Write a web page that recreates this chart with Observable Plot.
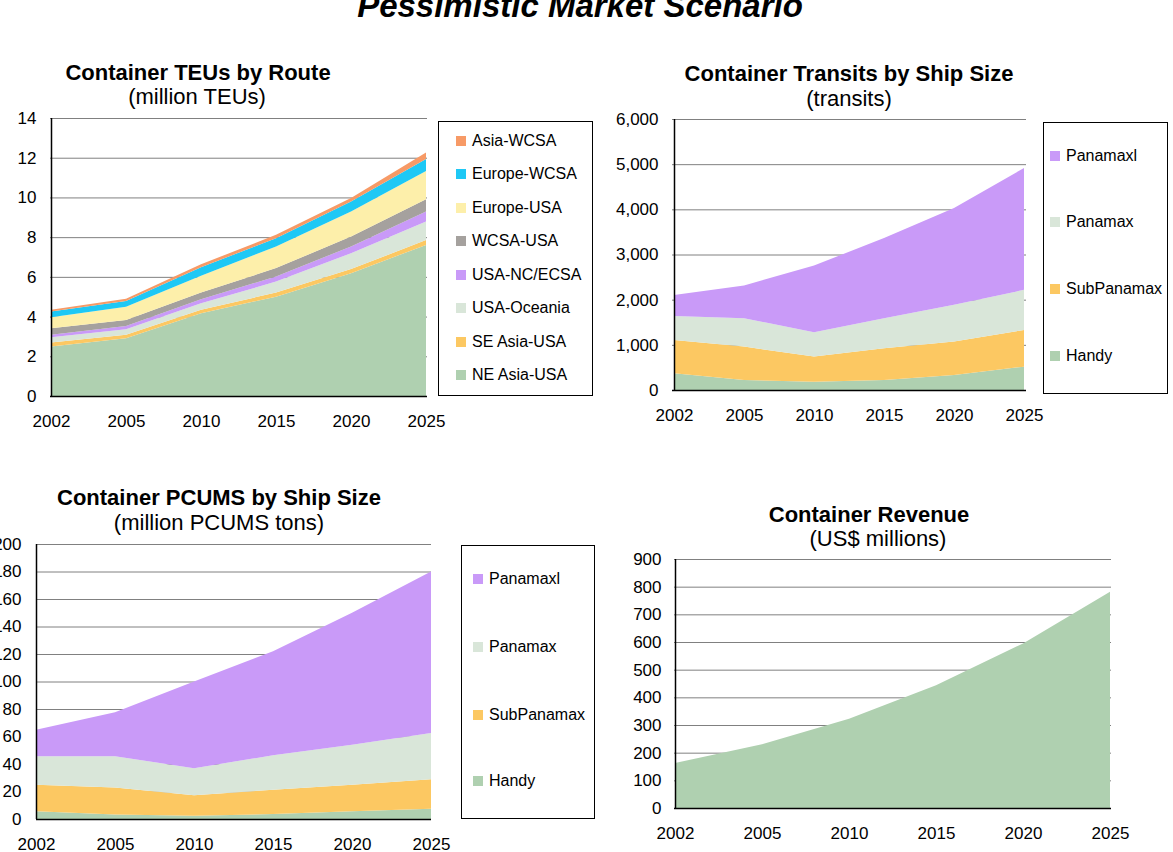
<!DOCTYPE html>
<html>
<head>
<meta charset="utf-8">
<script src="https://cdn.jsdelivr.net/npm/d3@7"></script>
<script src="https://cdn.jsdelivr.net/npm/@observablehq/plot@0.6"></script>
<style>
  html, body { margin: 0; padding: 0; background: #fff; }
  #root { position: relative; width: 1173px; height: 852px; overflow: hidden; font-family: "Liberation Sans", Arial, sans-serif; color: #000; }
  .title { position: absolute; transform: translateX(-50%); white-space: nowrap; font-size: 22px; line-height: 26px; }
  .legend { position: absolute; border: 1px solid #000; box-sizing: border-box; }
  .item { position: absolute; display: flex; align-items: center; height: 16px; font-size: 16px; line-height: 16px; white-space: nowrap; }
  .sw { width: 10px; height: 10px; margin-right: 6px; flex: none; }
</style>
</head>
<body>
<div id="root"></div>
<script>
const FONT = '"Liberation Sans", Arial, sans-serif';

// ---------- data ----------
const years = ["2002", "2005", "2010", "2015", "2020", "2025"];

// Container TEUs by Route (million TEUs), stacked bottom to top
const routes = ["NE Asia-USA", "SE Asia-USA", "USA-Oceania", "USA-NC/ECSA", "WCSA-USA", "Europe-USA", "Europe-WCSA", "Asia-WCSA"];
const routeColors = ["#afd0b0", "#fcc862", "#d9e6d9", "#c99af8", "#a5a19e", "#fdefaa", "#1ec8f5", "#f79a66"];
const teuNEAsiaUSA  = [2.49, 2.91, 4.17, 5.00, 6.18, 7.61];
const teuSEAsiaUSA  = [0.20, 0.17, 0.17, 0.21, 0.21, 0.24];
const teuUSAOceania = [0.27, 0.28, 0.33, 0.55, 0.80, 0.94];
const teuUSANCECSA  = [0.12, 0.17, 0.20, 0.26, 0.34, 0.50];
const teuWCSAUSA    = [0.33, 0.30, 0.34, 0.42, 0.50, 0.62];
const teuEuropeUSA  = [0.56, 0.67, 0.85, 1.09, 1.26, 1.42];
const teuEuropeWCSA = [0.28, 0.29, 0.42, 0.42, 0.51, 0.60];
const teuAsiaWCSA   = [0.09, 0.11, 0.15, 0.17, 0.17, 0.33];
const teuSeries = [teuNEAsiaUSA, teuSEAsiaUSA, teuUSAOceania, teuUSANCECSA, teuWCSAUSA, teuEuropeUSA, teuEuropeWCSA, teuAsiaWCSA];
const teuTicks = [0, 2, 4, 6, 8, 10, 12, 14];

// Ship sizes (stacked bottom to top)
const sizes = ["Handy", "SubPanamax", "Panamax", "Panamaxl"];
const sizeColors = ["#afd0b0", "#fcc862", "#d9e6d9", "#c99af8"];

// Container Transits by Ship Size (transits)
const trHandy      = [370, 222, 185, 222, 333, 517];
const trSubPanamax = [739, 739, 554, 702, 739, 813];
const trPanamax    = [532, 628, 540, 665, 813, 887];
const trPanamaxl   = [465, 724, 1478, 1774, 2143, 2698];
const trSeries = [trHandy, trSubPanamax, trPanamax, trPanamaxl];
const trTicks = [0, 1000, 2000, 3000, 4000, 5000, 6000];

// Container PCUMS by Ship Size (million PCUMS tons)
const pcHandy      = [5.6, 3.2, 2.4, 3.6, 5.6, 7.5];
const pcSubPanamax = [19.4, 19.8, 14.8, 17.7, 19.4, 21.5];
const pcPanamax    = [20.6, 22.6, 19.8, 25.0, 29.0, 33.5];
const pcPanamaxl   = [19.4, 32.0, 63.0, 75.7, 96.0, 117.5];
const pcSeries = [pcHandy, pcSubPanamax, pcPanamax, pcPanamaxl];
const pcTicks = [0, 20, 40, 60, 80, 100, 120, 140, 160, 180, 200];

// Container Revenue (US$ millions)
const revenue = [163, 230, 323, 444, 595, 782];
const revTicks = [0, 100, 200, 300, 400, 500, 600, 700, 800, 900];

// ---------- helpers ----------
function longData(names, seriesArrays) {
  const out = [];
  names.forEach((name, i) => years.forEach((year, j) => out.push({series: name, year, value: seriesArrays[i][j]})));
  return out;
}

function panel(cfg) {
  const {data, names, colors, ticks, fmt, width, height, ml, mt, mr, mb, yPad} = cfg;
  const plot = Plot.plot({
    width, height,
    marginLeft: ml, marginTop: mt, marginRight: mr, marginBottom: mb,
    style: {fontFamily: FONT, fontSize: "17px", color: "#000", background: "transparent"},
    x: {type: "point", domain: years, padding: 0, axis: null},
    y: {domain: [0, ticks[ticks.length - 1]], axis: null},
    color: {domain: names, range: colors},
    marks: [
      Plot.gridY(ticks, {stroke: "#808080", strokeOpacity: 1, strokeWidth: 1}),
      Plot.areaY(data, {x: "year", y: "value", fill: "series", z: "series", order: names}),
      Plot.ruleY([0], {stroke: "#000", strokeWidth: 1.5}),
      Plot.ruleX([years[0]], {stroke: "#000", strokeWidth: 1.5}),
      Plot.axisY(ticks, {tickSize: 0, tickPadding: yPad, tickFormat: fmt, fontSize: 17, fill: "#000", label: null}),
      Plot.axisX(years, {tickSize: 0, tickPadding: 18, fontSize: 17, fill: "#000", label: null})
    ]
  });
  plot.style.position = "absolute";
  plot.style.left = cfg.left + "px";
  plot.style.top = cfg.top + "px";
  plot.style.maxWidth = "none";
  return plot;
}

function addText(root, text, cx, top, opts = {}) {
  const d = document.createElement("div");
  d.className = "title";
  d.textContent = text;
  d.style.left = cx + "px";
  d.style.top = top + "px";
  if (opts.bold) d.style.fontWeight = "bold";
  if (opts.italic) d.style.fontStyle = "italic";
  if (opts.size) { d.style.fontSize = opts.size + "px"; d.style.lineHeight = (opts.size + 4) + "px"; }
  root.appendChild(d);
}

function addLegend(root, box, names, colors, itemYs, swLeft) {
  const lg = document.createElement("div");
  lg.className = "legend";
  lg.style.left = box.x + "px"; lg.style.top = box.y + "px";
  lg.style.width = box.w + "px"; lg.style.height = box.h + "px";
  root.appendChild(lg);
  names.forEach((n, i) => {
    const it = document.createElement("div");
    it.className = "item";
    it.style.left = swLeft + "px";
    it.style.top = (itemYs[i] - 8) + "px";
    const sw = document.createElement("span");
    sw.className = "sw";
    sw.style.background = colors[i];
    const tx = document.createElement("span");
    tx.textContent = n;
    it.appendChild(sw); it.appendChild(tx);
    root.appendChild(it);
  });
}

// ---------- build ----------
const root = document.getElementById("root");
const fmtComma = d3.format(",");
const fmtPlain = d => String(d);

// main title
addText(root, "Pessimistic Market Scenario", 580, -13, {bold: true, italic: true, size: 33});

// Panel 1: TEUs
root.appendChild(panel({
  data: longData(routes, teuSeries), names: routes, colors: routeColors, ticks: teuTicks, fmt: fmtPlain,
  left: 0, top: 100, width: 452, height: 336, ml: 50, mt: 18, mr: 25, mb: 40, yPad: 14
}));
addText(root, "Container TEUs by Route", 198, 60, {bold: true});
addText(root, "(million TEUs)", 197, 84);
{
  const order = routes.slice().reverse();
  const cols = routeColors.slice().reverse();
  addLegend(root, {x: 438, y: 121, w: 155, h: 275}, order, cols,
    order.map((_, i) => 140.5 + i * 33.5), 456);
}

// Panel 2: Transits
root.appendChild(panel({
  data: longData(sizes, trSeries), names: sizes, colors: sizeColors, ticks: trTicks, fmt: fmtComma,
  left: 600, top: 100, width: 451, height: 330, ml: 72, mt: 19, mr: 25, mb: 40, yPad: 14
}));
addText(root, "Container Transits by Ship Size", 849, 61, {bold: true});
addText(root, "(transits)", 849, 86);
{
  const order = sizes.slice().reverse();
  const cols = sizeColors.slice().reverse();
  addLegend(root, {x: 1043, y: 122, w: 125, h: 272}, order, cols, [156, 222, 289, 356], 1050);
}

// Panel 3: PCUMS
root.appendChild(panel({
  data: longData(sizes, pcSeries), names: sizes, colors: sizeColors, ticks: pcTicks, fmt: fmtPlain,
  left: 0, top: 520, width: 456, height: 339, ml: 36, mt: 24, mr: 25, mb: 40, yPad: 15
}));
addText(root, "Container PCUMS by Ship Size", 219, 485, {bold: true});
addText(root, "(million PCUMS tons)", 219, 510);
{
  const order = sizes.slice().reverse();
  const cols = sizeColors.slice().reverse();
  addLegend(root, {x: 461, y: 545, w: 134, h: 274}, order, cols, [579, 647, 715, 781], 473);
}

// Panel 4: Revenue
root.appendChild(panel({
  data: longData(["Revenue"], [revenue]), names: ["Revenue"], colors: ["#afd0b0"], ticks: revTicks, fmt: fmtPlain,
  left: 600, top: 535, width: 536, height: 313, ml: 74, mt: 24, mr: 25, mb: 40, yPad: 13
}));
addText(root, "Container Revenue", 869, 502, {bold: true});
addText(root, "(US$ millions)", 878, 526);
</script>
</body>
</html>
